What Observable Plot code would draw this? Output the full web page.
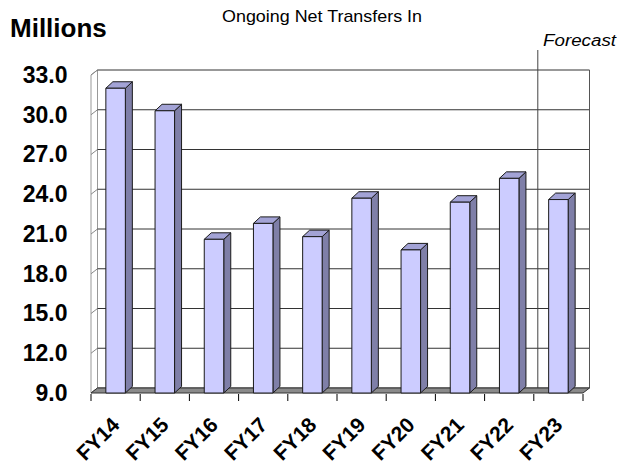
<!DOCTYPE html>
<html><head><meta charset="utf-8">
<script src="https://cdn.jsdelivr.net/npm/d3@7"></script>
<script src="https://cdn.jsdelivr.net/npm/@observablehq/plot@0.6"></script>
<style>
body{margin:0;background:#fff;}
#chart{width:617px;height:468px;}
</style>
</head><body><div id="chart"></div>
<script>
const categories = ["FY14","FY15","FY16","FY17","FY18","FY19","FY20","FY21","FY22","FY23"];
const values = [32.0, 30.3, 20.6, 21.8, 20.8, 23.7, 19.8, 23.4, 25.2, 23.6];
const yTicks = [9, 12, 15, 18, 21, 24, 27, 30, 33];
const forecastFrom = "FY23";
const titleText = "Ongoing Net Transfers In";
const unitText = "Millions";
const forecastText = "Forecast";

const data = categories.map((c, i) => ({fy: c, value: values[i]}));
const yBase = yTicks[0];
const wall = {dx: 6.5, dy: -5};
const bar = {dx: 7, dy: -6.5, w: 19.5};
const FONT = "'Liberation Sans', Arial, Helvetica, sans-serif";

function bandInfo(scales, dim) {
  const x = scales.x;
  const bw = x.bandwidth ? x.bandwidth() : (dim.width - dim.marginLeft - dim.marginRight) / categories.length;
  return {x, bw};
}

function walls(index, scales, vals, dim) {
  const {x, bw} = bandInfo(scales, dim);
  const y = scales.y;
  const x0 = dim.marginLeft, x1 = dim.width - dim.marginRight;
  const yTop = y(yTicks[yTicks.length - 1]), yBot = y(yBase);
  const g = d3.create("svg:g");
  g.append("rect").attr("x", x0 + wall.dx).attr("y", yTop + wall.dy)
    .attr("width", x1 - x0).attr("height", yBot - yTop).attr("fill", "white");
  g.append("path").attr("d", `M${x0},${yTop}L${x0 + wall.dx},${yTop + wall.dy}L${x0 + wall.dx},${yBot + wall.dy}L${x0},${yBot}Z`)
    .attr("fill", "white").attr("stroke", "#999").attr("stroke-width", 1);
  for (const t of yTicks) {
    const yy = y(t);
    g.append("line").attr("x1", x0).attr("y1", yy).attr("x2", x0 + wall.dx).attr("y2", yy + wall.dy)
      .attr("stroke", "#888").attr("stroke-width", 1);
    g.append("line").attr("x1", x0 + wall.dx).attr("y1", yy + wall.dy).attr("x2", x1 + wall.dx).attr("y2", yy + wall.dy)
      .attr("stroke", "#333").attr("stroke-width", 1);
  }
  g.append("line").attr("x1", x1 + wall.dx).attr("y1", yTop + wall.dy).attr("x2", x1 + wall.dx).attr("y2", yBot + wall.dy)
    .attr("stroke", "#555").attr("stroke-width", 1);
  const fx = x(forecastFrom) + 4;
  g.append("line").attr("x1", fx).attr("y1", yTop + wall.dy - 20).attr("x2", fx).attr("y2", yBot + wall.dy)
    .attr("stroke", "#444").attr("stroke-width", 1);
  g.append("path").attr("d", `M${x0},${yBot}L${x1},${yBot}L${x1 + wall.dx},${yBot + wall.dy}L${x0 + wall.dx},${yBot + wall.dy}Z`)
    .attr("fill", "#8a8a8a").attr("stroke", "#333").attr("stroke-width", 1);
  for (let i = 0; i <= categories.length; i++) {
    const tx = (i < categories.length ? x(categories[i]) : x(categories[i - 1]) + bw);
    g.append("line").attr("x1", tx).attr("y1", yBot + 1).attr("x2", tx).attr("y2", yBot + 8)
      .attr("stroke", "#000").attr("stroke-width", 1);
  }
  return g.node();
}

function bars3d(index, scales, vals, dim) {
  const {x, bw} = bandInfo(scales, dim);
  const y = scales.y;
  const yBot = y(yBase);
  const g = d3.create("svg:g").attr("stroke", "#1a1a1a").attr("stroke-width", 1).attr("stroke-linejoin", "round");
  for (const d of data) {
    const xc = x(d.fy) + bw / 2;
    const a = xc - bar.w / 2, b = xc + bar.w / 2, yt = y(d.value);
    g.append("path").attr("d", `M${b},${yt}L${b + bar.dx},${yt + bar.dy}L${b + bar.dx},${yBot + bar.dy}L${b},${yBot}Z`).attr("fill", "#7f7fa8");
    g.append("path").attr("d", `M${a},${yt}L${a + bar.dx},${yt + bar.dy}L${b + bar.dx},${yt + bar.dy}L${b},${yt}Z`).attr("fill", "#a3a3d6");
    g.append("rect").attr("x", a).attr("y", yt).attr("width", bar.w).attr("height", yBot - yt).attr("fill", "#ccccff");
  }
  return g.node();
}

const chart = Plot.plot({
  width: 617,
  height: 468,
  marginLeft: 91,
  marginRight: 34,
  marginTop: 75,
  marginBottom: 75,
  style: {fontFamily: FONT, color: "black", background: "white", overflow: "visible"},
  x: {type: "band", domain: categories, padding: 0, round: false, label: null},
  y: {domain: [yBase, yTicks[yTicks.length - 1]], label: null},
  marks: [
    walls,
    bars3d,
    Plot.axisY(yTicks, {tickSize: 0, tickPadding: 24, tickFormat: d3.format(".1f"), fontSize: 23, fontWeight: "bold", label: null}),
    Plot.axisX({tickRotate: -45, tickSize: 0, tickPadding: 28, fontSize: 21, fontWeight: "bold", label: null})
  ]
});

const svg = d3.select(chart);
svg.append("text").attr("x", 322).attr("y", 21.5).attr("text-anchor", "middle")
  .attr("font-size", 17).attr("font-family", FONT).attr("fill", "black")
  .attr("textLength", 200).attr("lengthAdjust", "spacingAndGlyphs").text(titleText);
svg.append("text").attr("x", 10).attr("y", 37).attr("text-anchor", "start").attr("font-size", 26).attr("font-weight", "bold")
  .attr("font-family", FONT).attr("fill", "black").text(unitText);
svg.append("text").attr("x", 543).attr("y", 46).attr("text-anchor", "start").attr("font-size", 16).attr("font-style", "italic")
  .attr("font-family", FONT).attr("fill", "black")
  .attr("textLength", 73).attr("lengthAdjust", "spacingAndGlyphs").text(forecastText);

document.getElementById("chart").appendChild(chart);
</script>
</body></html>
